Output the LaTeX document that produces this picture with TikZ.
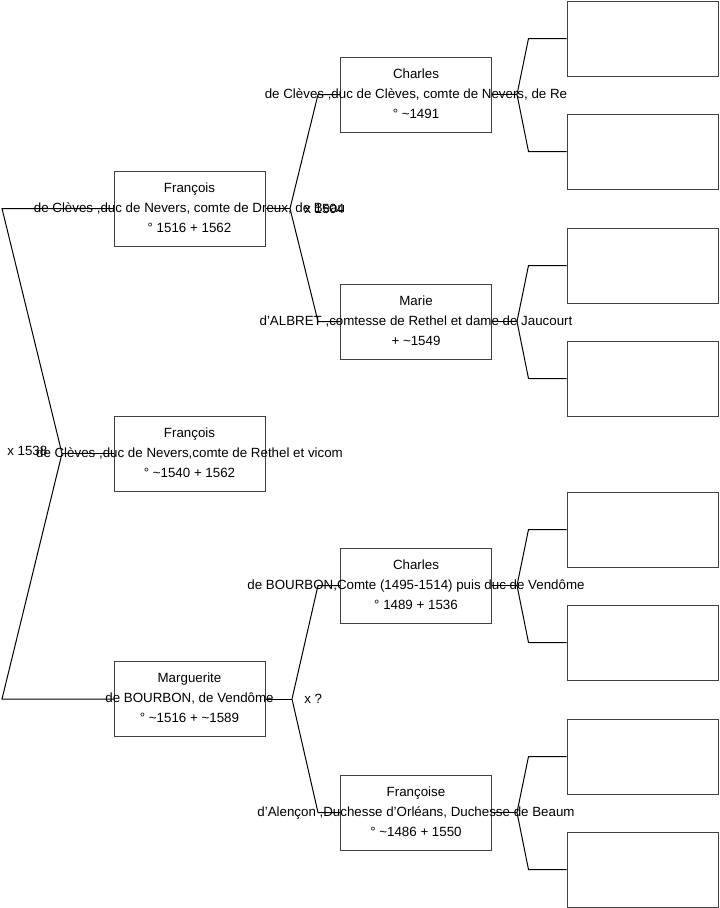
\documentclass[tikz,border=0pt]{standalone}
\usepackage{fontspec}
\setmainfont{Liberation Sans}
\begin{document}
\begin{tikzpicture}[x=0.75pt,y=-0.75pt,
  box/.style={draw=black!75, line width=0.75pt, rectangle, minimum width=113.25pt, minimum height=56.25pt, inner sep=0pt},
  txt/.style={align=center, font=\fontsize{10}{15}\selectfont, inner sep=0pt},
  lbl/.style={anchor=west, font=\fontsize{10}{15}\selectfont, inner sep=0pt},
  conn/.style={draw=black, line width=0.75pt}]
\useasboundingbox (0,0) rectangle (719,908);
% generation 1
\node[box] (f1) at (189.5,208.5) {};
\node[box] (f2) at (189.5,453.5) {};
\node[box] (mg) at (189.5,699) {};
% generation 2
\node[box] (c1) at (416,94.5) {};
\node[box] (ma) at (416,321.5) {};
\node[box] (c2) at (416,585.5) {};
\node[box] (fr) at (416,812.5) {};
% generation 3
\foreach \n/\y in {1/38.5,2/151.5,3/265.5,4/378.5,5/529.5,6/642.5,7/756.5,8/869.5}
  \node[box] (g\n) at (642.5,\y) {};
% texts
\node[txt] (f1t) at ([yshift=0.75pt]f1.center) {François\\de Clèves ,duc de Nevers, comte de Dreux, de Beau\\° 1516 + 1562};
\node[txt] (f2t) at ([yshift=0.75pt]f2.center) {François\\de Clèves ,duc de Nevers,comte de Rethel et vicom\\° \textasciitilde 1540 + 1562};
\node[txt] (mgt) at ([yshift=0.75pt]mg.center) {Marguerite\\de BOURBON, de Vendôme\\° \textasciitilde 1516 + \textasciitilde 1589};
\node[txt] (c1t) at ([yshift=0.75pt]c1.center) {Charles\\de Clèves ,duc de Clèves, comte de Nevers, de Re\\° \textasciitilde 1491};
\node[txt] (mat) at ([yshift=0.75pt]ma.center) {Marie\\d'ALBRET ,comtesse de Rethel et dame de Jaucourt\\+ \textasciitilde 1549};
\node[txt] (c2t) at ([yshift=0.75pt]c2.center) {Charles\\de BOURBON,Comte (1495-1514) puis duc de Vendôme\\° 1489 + 1536};
\node[txt] (frt) at ([yshift=0.75pt]fr.center) {Françoise\\d'Alençon ,Duchesse d'Orléans, Duchesse de Beaum\\° \textasciitilde 1486 + 1550};
% marriage labels
\node[lbl] (x0) at (7,451) {x 1538};
\node[lbl] (x1) at (304,208.5) {x 1504};
\node[lbl] (x2) at (304,699) {x ?};
% connectors gen1
\coordinate (v0) at (62,453.5);
\coordinate (a0) at (2,208.5);
\coordinate (b0) at (2,699);
\draw[conn] (f1.west) -- (a0) -- (v0) -- (b0) -- (mg.west);
\draw[conn] (v0) -- (f2.west);
% connectors gen2
\coordinate (v1) at (290,208.5);
\coordinate (u1) at (318,94.5);
\coordinate (l1) at (318,321.5);
\draw[conn] (c1.west) -- (u1) -- (v1) -- (l1) -- (ma.west);
\draw[conn] (v1) -- (f1.east);
\coordinate (v2) at (292,699);
\coordinate (u2) at (318,585.5);
\coordinate (l2) at (318,812.5);
\draw[conn] (c2.west) -- (u2) -- (v2) -- (l2) -- (fr.west);
\draw[conn] (v2) -- (mg.east);
% connectors gen3
\foreach \p/\a/\b in {c1/1/2, ma/3/4, c2/5/6, fr/7/8}{
  \coordinate (v\p) at ([xshift=18.75pt]\p.east);
  \coordinate (u\p) at ([xshift=-28.5pt]g\a.west);
  \coordinate (l\p) at ([xshift=-28.5pt]g\b.west);
  \draw[conn] (g\a.west) -- (u\p) -- (v\p) -- (l\p) -- (g\b.west);
  \draw[conn] (v\p) -- (\p.east);
}
\end{tikzpicture}
\end{document}
